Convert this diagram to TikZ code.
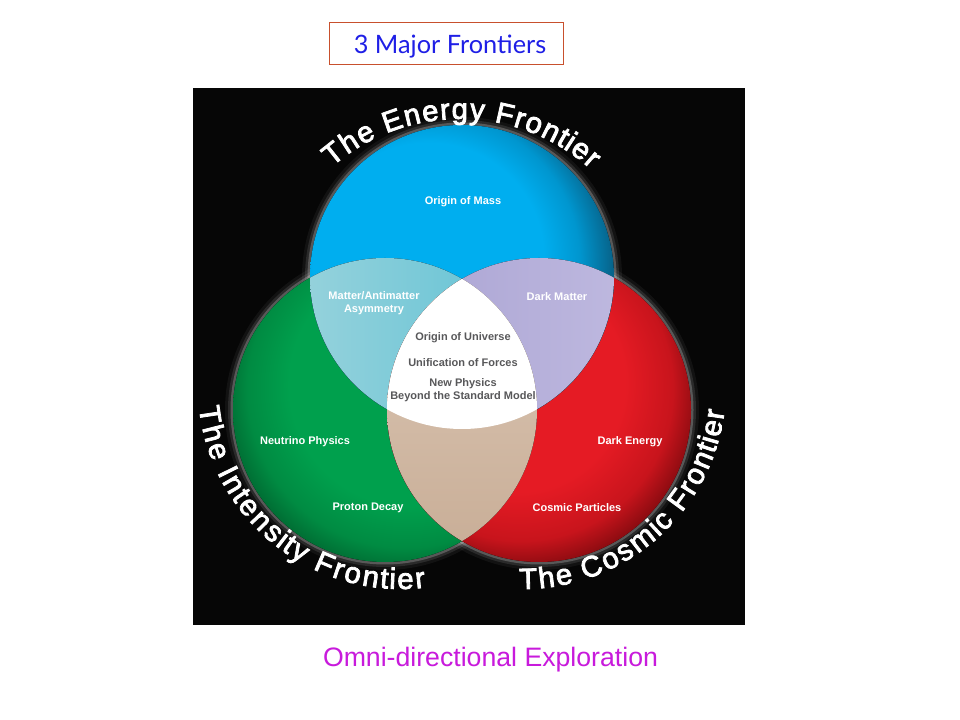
\documentclass[tikz,border=0pt]{standalone}
\usepackage{fontspec}
\setmainfont{Liberation Sans}
\newfontfamily\titlefont{Lato}
\usetikzlibrary{decorations.text}
\definecolor{bgblack}{HTML}{060606}
\definecolor{blueA}{HTML}{00AEEF}
\definecolor{blueB}{HTML}{0096CF}
\definecolor{blueC}{HTML}{0A4A68}
\definecolor{greenA}{HTML}{00A04D}
\definecolor{greenB}{HTML}{008B42}
\definecolor{greenC}{HTML}{004A22}
\definecolor{redA}{HTML}{E51B24}
\definecolor{redB}{HTML}{C8141C}
\definecolor{redC}{HTML}{5A0407}
\definecolor{cyanL}{HTML}{A6D7DE}
\definecolor{cyanR}{HTML}{5FC1D4}
\definecolor{lavL}{HTML}{A9A2D2}
\definecolor{lavR}{HTML}{C4BFE3}
\definecolor{tanT}{HTML}{DCC8B6}
\definecolor{tanB}{HTML}{C8AD96}
\definecolor{innergray}{HTML}{58585A}
\definecolor{titleblue}{HTML}{1F1FE6}
\definecolor{titleborder}{HTML}{C8502D}
\definecolor{omni}{HTML}{C81ADC}
\pgfdeclareradialshading{bluesh}{\pgfpoint{-9bp}{5bp}}{color(0bp)=(blueA); color(19bp)=(blueA); color(24bp)=(blueB); color(31bp)=(blueC); color(50bp)=(blueC)}
\pgfdeclareradialshading{greensh}{\pgfpoint{7bp}{7bp}}{color(0bp)=(greenA); color(20bp)=(greenA); color(26bp)=(greenB); color(33bp)=(greenC); color(50bp)=(greenC)}
\pgfdeclareradialshading{redsh}{\pgfpoint{-6bp}{7bp}}{color(0bp)=(redA); color(18bp)=(redA); color(25bp)=(redB); color(32bp)=(redC); color(50bp)=(redC)}
\newcommand\curvefont{\fontsize{22}{22}\selectfont}
\newcommand\glowon{\special{pdf:literal direct 2 Tr 0.6 w}}
\newcommand\glowoff{\special{pdf:literal direct 0 Tr}}
\tikzset{
  inlabel/.style={text=white, font=\bfseries\fontsize{8.25}{9.9}\selectfont, align=center, inner sep=0pt},
  corelabel/.style={inlabel, text=innergray},
  curvetext/.style={decorate, decoration={text effects along path, text={#1},
     text effects/.cd, text along path, fit text to path,
     every character/.append style={text=white, font=\curvefont,
       execute at begin node=\glowon, execute at end node=\glowoff}}},
}
\begin{document}
\begin{tikzpicture}[x=0.75pt, y=0.75pt]
\useasboundingbox (0,0) rectangle (960,720);
\fill[white] (0,0) rectangle (960,720);
% title
\node (titlebox) [draw=titleborder, line width=0.75pt, minimum width=175.5pt, minimum height=31.5pt, inner sep=0pt] at (446,676) {};
\node (title) [anchor=base, text=titleblue, font=\titlefont\fontsize{19}{19}\selectfont, inner sep=0pt] at (450,666) {3 Major Frontiers};
% black panel
\fill[bgblack] (193,95) rectangle (745,632);
\coordinate (B) at (462,443);
\coordinate (G) at (385,310);
\coordinate (R) at (539,310);
% glow
\foreach \p in {B,G,R} {
  \fill[white, opacity=0.05] (\p) circle (160);
  \fill[white, opacity=0.10] (\p) circle (157);
  \fill[white, opacity=0.22] (\p) circle (154.5);
}
% circles
\fill[shading=greensh] (G) circle (152);
\fill[shading=redsh] (R) circle (152);
\fill[shading=bluesh] (B) circle (152);
% pairwise overlaps
\begin{scope}
  \clip (B) circle (152);
  \fill[left color=cyanL, right color=cyanR] (G) circle (152);
\end{scope}
\begin{scope}
  \clip (B) circle (152);
  \fill[left color=lavL, right color=lavR] (R) circle (152);
\end{scope}
\begin{scope}
  \clip (G) circle (152);
  \fill[top color=tanT, bottom color=tanB] (R) circle (152);
\end{scope}
\begin{scope}
  \clip (B) circle (152);
  \clip (G) circle (152);
  \fill[white] (R) circle (152);
\end{scope}
% curved titles
\path[curvetext={The Energy Frontier}] (460,406) ++(131:195) arc[start angle=131, end angle=48, radius=195];
\path[curvetext={The Intensity Frontier}] (401,334) ++(186:203) arc[start angle=186, end angle=277, radius=203];
\path[curvetext={The Cosmic Frontier}] (523,334) ++(269:203) arc[start angle=269, end angle=353, radius=203];
% inner labels
\node (mass) [inlabel] at (463,518) {Origin of Mass};
\node (matter) [inlabel] at (374,416.5) {Matter/Antimatter\\Asymmetry};
\node (dm) [inlabel] at (557,423) {Dark Matter};
\node (univ) [corelabel] at (463,382) {Origin of Universe};
\node (unif) [corelabel] at (463,357) {Unification of Forces};
\node (newph) [corelabel] at (463,330) {New Physics\\Beyond the Standard Model};
\node (neut) [inlabel] at (305,278) {Neutrino Physics};
\node (proton) [inlabel] at (368,212) {Proton Decay};
\node (de) [inlabel] at (630,278) {Dark Energy};
\node (cp) [inlabel] at (577,212) {Cosmic Particles};
% bottom caption
\node (caption) [anchor=base, text=omni, font=\fontsize{20}{20}\selectfont, inner sep=0pt] at (490.5,53) {Omni-directional Exploration};
\end{tikzpicture}
\end{document}
